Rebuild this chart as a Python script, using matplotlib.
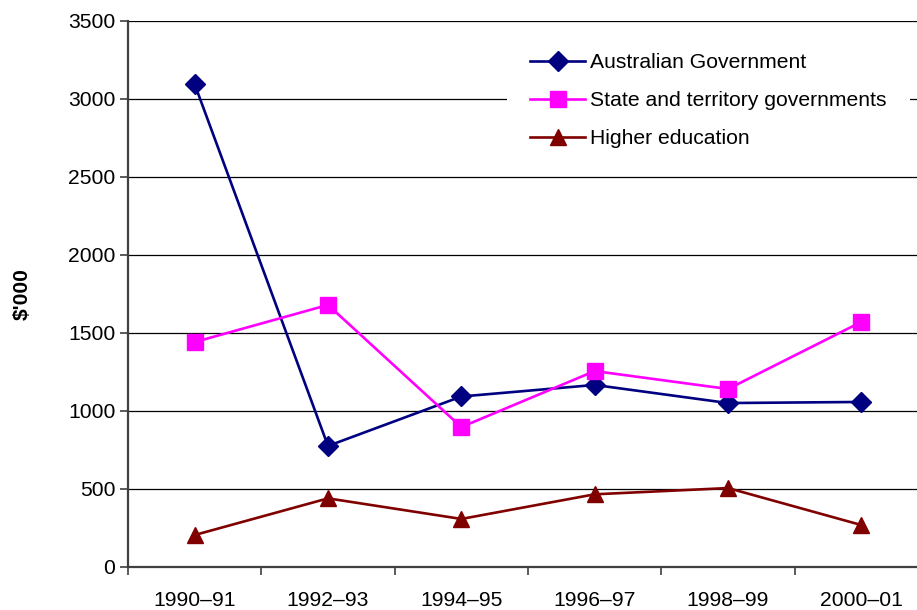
import matplotlib
matplotlib.use("Agg")
import matplotlib.pyplot as plt
from matplotlib.ticker import FixedLocator, NullFormatter

plt.rcParams['font.family'] = ['Liberation Sans', 'DejaVu Sans']

categories = ["1990\u201391", "1992\u201393", "1994\u201395", "1996\u201397", "1998\u201399", "2000\u201301"]
australian_gov = [3095, 776, 1093, 1167, 1051, 1058]
state_gov = [1442, 1680, 897, 1256, 1141, 1571]
higher_ed = [205, 440, 308, 466, 506, 269]

FS = 15.2

fig = plt.figure(figsize=(9.17, 6.10), dpi=100)
ax = fig.add_axes([128/917, 1-567/610, 800/917, 546/610])

x = list(range(len(categories)))
ax.plot(x, australian_gov, color='#000080', lw=1.9, marker='D', ms=10,
        label='Australian Government', zorder=3)
ax.plot(x, state_gov, color='#FF00FF', lw=1.9, marker='s', ms=11.5,
        label='State and territory governments', zorder=3)
ax.plot(x, higher_ed, color='#800000', lw=1.9, marker='^', ms=11.5,
        label='Higher education', zorder=3)

ax.set_xlim(-0.5, 5.5)
ax.set_ylim(0, 3500)
ax.set_yticks(range(0, 3501, 500))
ax.set_xticks(x)
ax.set_xticklabels(categories)
ax.xaxis.set_minor_locator(FixedLocator([i - 0.5 for i in range(len(categories) + 1)]))
ax.xaxis.set_minor_formatter(NullFormatter())
ax.tick_params(axis='x', which='major', length=0, pad=17.5, labelsize=FS)
ax.tick_params(axis='x', which='minor', length=6, width=1.2, color='#404040', direction='out')
ax.tick_params(axis='y', which='major', length=6, width=1.2, color='#404040',
               direction='out', pad=3, labelsize=FS)

ax.grid(axis='y', color='black', lw=0.9)
ax.set_axisbelow(True)
for s in ['top', 'right']:
    ax.spines[s].set_visible(False)
for s in ['left', 'bottom']:
    ax.spines[s].set_color('#404040')
    ax.spines[s].set_linewidth(1.6)

ax.set_ylabel("$'000", fontsize=FS, fontweight='bold', labelpad=26)

leg = ax.legend(loc='upper left', bbox_to_anchor=(507/917, 1-30/610),
                bbox_transform=fig.transFigure, fontsize=FS, frameon=True,
                fancybox=False, edgecolor='none', facecolor='white', framealpha=1,
                handlelength=2.6, handletextpad=0.25, labelspacing=0.9,
                borderpad=1.1, borderaxespad=0)

fig.savefig('out.png', dpi=100)
